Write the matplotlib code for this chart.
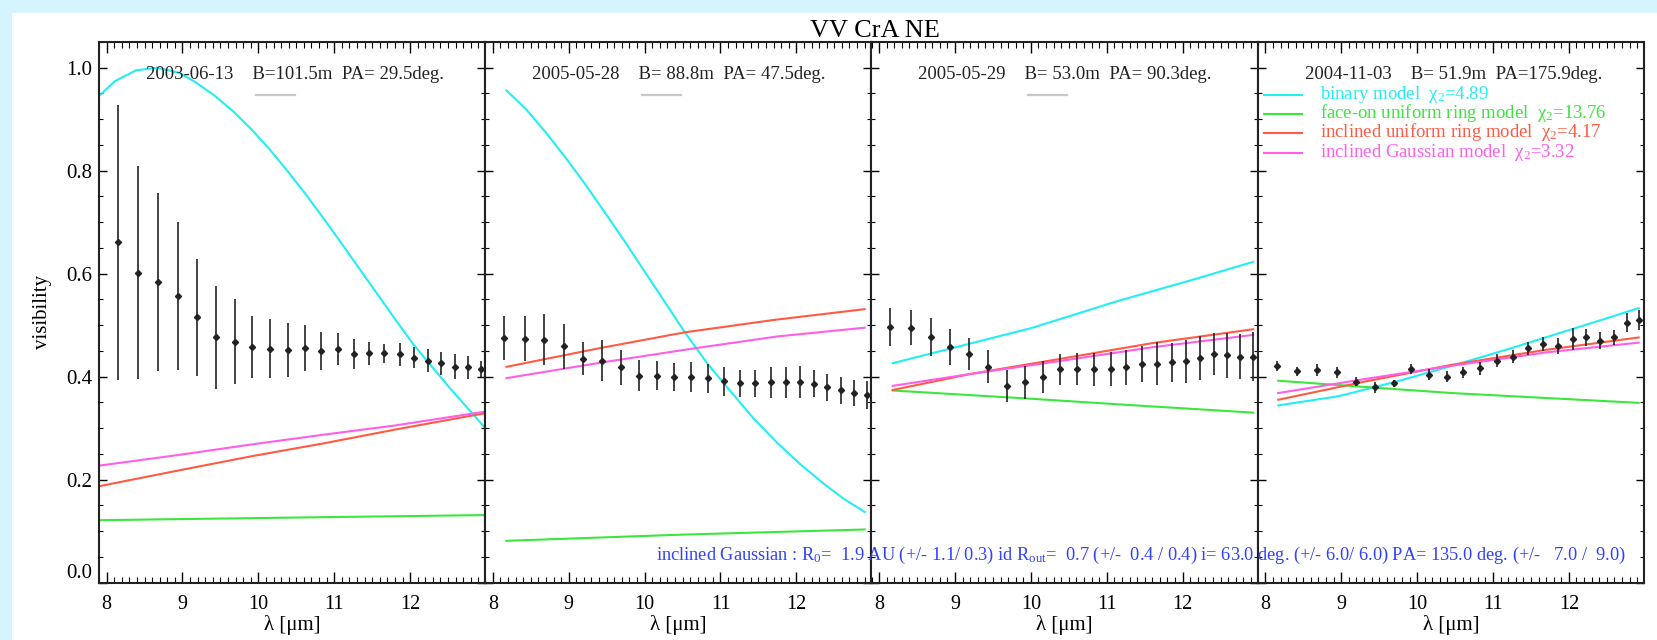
import numpy as np
import matplotlib.pyplot as plt
from matplotlib.patches import Rectangle
from matplotlib.ticker import MultipleLocator

plt.rcParams['font.family'] = ['Liberation Serif', 'DejaVu Serif']
plt.rcParams['mathtext.fontset'] = 'custom'
plt.rcParams['mathtext.rm'] = 'Liberation Serif'
plt.rcParams['mathtext.it'] = 'Liberation Serif'
plt.rcParams['mathtext.bf'] = 'Liberation Serif'

# observations
dates = ['2003-06-13', '2005-05-28', '2005-05-29', '2004-11-03']
baselines = ['B=101.5m', 'B= 88.8m', 'B= 53.0m', 'B= 51.9m']
pos_angles = ['PA= 29.5deg.', 'PA= 47.5deg.', 'PA= 90.3deg.', 'PA=175.9deg.']

wave = [8.15, 8.42, 8.68, 8.94, 9.19, 9.44, 9.69, 9.92, 10.16, 10.39, 10.61, 10.83,
        11.05, 11.26, 11.46, 11.66, 11.86, 12.05, 12.23, 12.41, 12.59, 12.76, 12.93]

vis = [
    [0.661, 0.602, 0.583, 0.557, 0.515, 0.476, 0.468, 0.457, 0.454, 0.452, 0.455, 0.450,
     0.454, 0.444, 0.445, 0.445, 0.443, 0.437, 0.431, 0.426, 0.419, 0.418, 0.415],
    [0.475, 0.474, 0.472, 0.459, 0.435, 0.431, 0.418, 0.402, 0.402, 0.399, 0.399, 0.397,
     0.391, 0.387, 0.387, 0.389, 0.389, 0.389, 0.386, 0.379, 0.373, 0.368, 0.365],
    [0.497, 0.495, 0.477, 0.458, 0.444, 0.419, 0.382, 0.389, 0.399, 0.414, 0.414, 0.414,
     0.415, 0.418, 0.425, 0.425, 0.428, 0.430, 0.436, 0.444, 0.441, 0.439, 0.439],
    [0.421, 0.410, 0.413, 0.408, 0.390, 0.379, 0.387, 0.415, 0.404, 0.400, 0.408, 0.416,
     0.431, 0.439, 0.455, 0.463, 0.459, 0.473, 0.476, 0.470, 0.476, 0.505, 0.510],
]
err = [
    [0.267, 0.207, 0.173, 0.144, 0.113, 0.100, 0.083, 0.060, 0.057, 0.052, 0.045, 0.037,
     0.031, 0.030, 0.022, 0.019, 0.023, 0.021, 0.023, 0.022, 0.024, 0.022, 0.016],
    [0.043, 0.043, 0.050, 0.044, 0.032, 0.040, 0.034, 0.030, 0.029, 0.027, 0.029, 0.028,
     0.028, 0.026, 0.026, 0.030, 0.030, 0.031, 0.026, 0.026, 0.026, 0.026, 0.027],
    [0.037, 0.034, 0.037, 0.035, 0.031, 0.032, 0.031, 0.032, 0.031, 0.030, 0.031, 0.032,
     0.033, 0.034, 0.035, 0.042, 0.038, 0.042, 0.042, 0.041, 0.043, 0.044, 0.047],
    [0.010, 0.009, 0.011, 0.011, 0.009, 0.010, 0.007, 0.010, 0.011, 0.010, 0.010, 0.012,
     0.013, 0.012, 0.013, 0.014, 0.016, 0.021, 0.016, 0.016, 0.014, 0.018, 0.020],
]

# model fits
model_names = ['binary model', 'face-on uniform ring model',
               'inclined uniform ring model', 'inclined Gaussian model']
chi2 = ['4.89', '13.76', '4.17', '3.32']
model_colors = ['#22eef4', '#3ce63c', '#ff5a44', '#ff5ee8']

binary_wave = [
    [7.90, 8.11, 8.39, 8.67, 8.96, 9.17, 9.43, 9.67, 9.91, 10.14, 10.38, 10.62,
     10.85, 11.09, 11.32, 11.56, 11.80, 12.04, 12.51, 12.99],
    [8.18, 8.44, 8.70, 8.96, 9.22, 9.48, 9.75, 10.01, 10.27, 10.53, 10.83, 11.14,
     11.44, 11.75, 12.05, 12.36, 12.62, 12.90],
    [8.18, 10.00, 11.15, 12.13, 12.93],
    [8.17, 8.97, 9.72, 10.46, 11.17, 12.04, 12.92],
]
binary_vis = [
    [0.945, 0.974, 0.995, 1.000, 0.990, 0.972, 0.945, 0.915, 0.880, 0.843, 0.800, 0.755,
     0.709, 0.660, 0.612, 0.562, 0.512, 0.463, 0.380, 0.300],
    [0.956, 0.919, 0.874, 0.825, 0.773, 0.718, 0.660, 0.602, 0.544, 0.486, 0.425, 0.370,
     0.318, 0.271, 0.230, 0.192, 0.163, 0.137],
    [0.426, 0.494, 0.547, 0.588, 0.623],
    [0.344, 0.362, 0.390, 0.421, 0.452, 0.492, 0.533],
]
faceon_wave = [[7.90, 10.40, 12.99], [8.18, 10.50, 12.90],
               [8.18, 10.00, 11.27, 12.93], [8.17, 9.30, 10.46, 12.92]]
faceon_vis = [[0.121, 0.126, 0.131], [0.081, 0.093, 0.103],
              [0.373, 0.357, 0.345, 0.330], [0.392, 0.380, 0.368, 0.349]]
ring_wave = [[7.90, 8.96, 9.90, 10.85, 11.80, 12.99], [8.18, 9.40, 10.53, 11.70, 12.90],
             [8.18, 9.20, 10.37, 11.60, 12.93], [8.17, 9.30, 10.46, 11.70, 12.92]]
ring_vis = [[0.187, 0.218, 0.245, 0.270, 0.297, 0.329], [0.419, 0.455, 0.486, 0.510, 0.531],
            [0.374, 0.405, 0.434, 0.465, 0.492], [0.355, 0.390, 0.423, 0.452, 0.476]]
gauss_wave = [[7.90, 8.96, 9.90, 10.85, 11.80, 12.99], [8.18, 9.46, 10.66, 11.75, 12.90],
              [8.18, 9.20, 10.37, 11.60, 12.93], [8.17, 9.30, 10.46, 11.70, 12.92]]
gauss_vis = [[0.227, 0.248, 0.268, 0.287, 0.305, 0.332], [0.397, 0.428, 0.455, 0.478, 0.495],
             [0.382, 0.405, 0.430, 0.457, 0.481], [0.368, 0.395, 0.421, 0.447, 0.466]]

fit_text = (r'inclined Gaussian : R$_0$=  1.9 AU (+/- 1.1/ 0.3) id R$_{\mathrm{out}}$=  0.7 '
            r'(+/-  0.4 / 0.4) i= 63.0 deg. (+/- 6.0/ 6.0) PA= 135.0 deg. (+/-   7.0 /  9.0)')

W, H = 1658, 640
fig, axes = plt.subplots(1, 4, figsize=(W / 100, H / 100), dpi=100, sharey=True)
fig.patch.set_facecolor('#d6f4fe')
fig.patches.append(Rectangle((12 / W, 0), 1 - 12 / W, 1 - 13 / H, transform=fig.transFigure,
                             facecolor='white', edgecolor='none', zorder=-10))
fig.subplots_adjust(left=99 / W, right=1644 / W, top=1 - 42 / H, bottom=1 - 582.5 / H, wspace=0)

models = [(binary_wave, binary_vis), (faceon_wave, faceon_vis),
          (ring_wave, ring_vis), (gauss_wave, gauss_vis)]

for i, ax in enumerate(axes):
    ax.errorbar(wave, vis[i], yerr=err[i], fmt='D', ms=3.1, color='#222222',
                ecolor='#222222', elinewidth=1.2, capsize=0, zorder=3)
    for (mw, mv), c in zip(models, model_colors):
        ax.plot(mw[i], mv[i], color=c, lw=1.5, zorder=2)

    ax.set_xlim(7.9, 12.99)
    ax.set_ylim(0, 1.05)
    ax.set_xticks([8, 9, 10, 11, 12])
    ax.xaxis.set_minor_locator(MultipleLocator(0.1))
    ax.set_yticks([0.0, 0.2, 0.4, 0.6, 0.8, 1.0])
    ax.yaxis.set_minor_locator(MultipleLocator(0.05))
    ax.tick_params(axis='x', which='major', direction='in', length=8, width=1,
                   top=True, bottom=True, labelsize=14.5, pad=9)
    ax.tick_params(axis='x', which='minor', direction='in', length=4.3, width=0.8,
                   top=True, bottom=True)
    ax.tick_params(axis='y', which='major', direction='in', length=5.5, width=1,
                   left=True, right=True, labelsize=15, pad=5)
    ax.tick_params(axis='y', which='minor', direction='in', length=2.8, width=0.8,
                   left=True, right=True)
    for s in ax.spines.values():
        s.set_linewidth(1.5)
        s.set_color('#222222')
    ax.set_xlabel('λ [μm]', fontsize=15, labelpad=1)

    ax.text(0.1216, 0.9315, dates[i] + '    ' + baselines[i] + '  ' + pos_angles[i],
            transform=ax.transAxes, fontsize=13.5, va='baseline', ha='left', color='#222222')
    if i < 3:
        ax.plot([0.406, 0.507], [0.902, 0.902], transform=ax.transAxes, color='#c8c8c8', lw=1.6)

axes[0].yaxis.set_major_formatter(plt.FormatStrFormatter('%.1f'))
axes[0].get_yticklabels()[0].set_verticalalignment('bottom')
for ax in axes[1:]:
    ax.tick_params(labelleft=False)

# legend in the last panel
leg_y = [0.902, 0.867, 0.832, 0.795]
for name, c, x2, y in zip(model_names, model_colors, chi2, leg_y):
    axes[3].plot([0.016, 0.114], [y, y], transform=axes[3].transAxes, color=c, lw=1.5)
    axes[3].text(0.16, y - 0.0075, name + '  χ$_2$=' + x2, transform=axes[3].transAxes,
                 color=c, fontsize=13.5, va='baseline', ha='left')

fig.text(875 / W, 1 - 37 / H, 'VV CrA NE', ha='center', va='baseline', fontsize=19)
fig.text(43 / W, 1 - 312 / H, 'visibility', rotation=90, ha='center', va='center', fontsize=15)
fig.text(656 / W, 1 - 560 / H, fit_text, color='#3040ff', fontsize=13.2, va='baseline', ha='left')

fig.savefig('out.png', dpi=100, facecolor=fig.get_facecolor())
